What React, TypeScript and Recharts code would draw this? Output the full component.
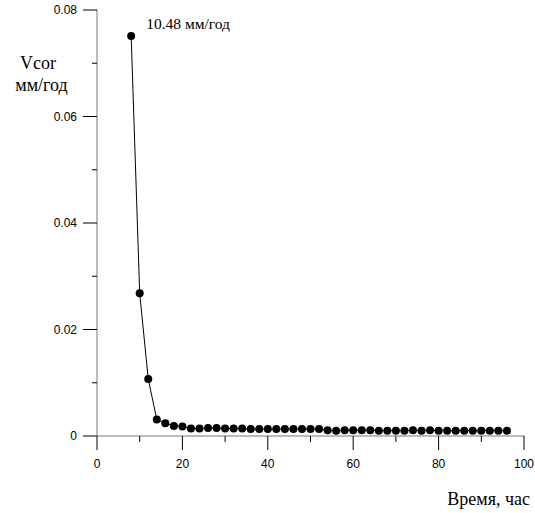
import React from "react";
import { LineChart, Line, XAxis, YAxis } from "recharts";

const hours = [8, 10, 12, 14, 16, 18, 20, 22, 24, 26, 28, 30, 32, 34, 36, 38, 40, 42, 44, 46, 48, 50, 52, 54, 56, 58, 60, 62, 64, 66, 68, 70, 72, 74, 76, 78, 80, 82, 84, 86, 88, 90, 92, 94, 96];
const vcor = [0.0751, 0.0268, 0.0107, 0.0031, 0.0024, 0.0019, 0.0018, 0.0014, 0.0014, 0.0015, 0.0015, 0.0014, 0.0014, 0.0014, 0.0013, 0.0013, 0.0013, 0.0013, 0.0013, 0.0013, 0.0013, 0.0013, 0.0013, 0.0011, 0.001, 0.0011, 0.0011, 0.0011, 0.0011, 0.001, 0.001, 0.001, 0.001, 0.0011, 0.001, 0.0011, 0.001, 0.001, 0.001, 0.001, 0.001, 0.001, 0.001, 0.001, 0.001];
const xMajorTicks = [0, 20, 40, 60, 80, 100];
const xMinorTicks = [10, 30, 50, 70, 90];
const yMajorTicks = [0, 0.02, 0.04, 0.06, 0.08];
const yMinorTicks = [0.01, 0.03, 0.05, 0.07];
const peakLabel = "10.48 мм/год";
const yTitle = ["Vcor", "мм/год"];
const xTitle = "Время, час";

const data = hours.map((h, i) => ({ h, v: vcor[i] }));
const xTicks = [...xMajorTicks, ...xMinorTicks].sort((a, b) => a - b);
const yTicks = [...yMajorTicks, ...yMinorTicks].sort((a, b) => a - b);

const serif = "'Liberation Serif', 'Times New Roman', serif";
const sans = "'Liberation Sans', Arial, sans-serif";

const XTick = (props: any) => {
  const { x, y, payload } = props;
  const major = xMajorTicks.includes(payload.value);
  return (
    <g>
      <line x1={x} y1={y} x2={x} y2={y + (major ? 14 : 6)} stroke="#000" strokeWidth={1} />
      {major && (
        <text x={x} y={y + 32} textAnchor="middle" style={{ fontFamily: sans, fontSize: 12, fill: "#000" }}>
          {String(payload.value)}
        </text>
      )}
    </g>
  );
};

const YTick = (props: any) => {
  const { x, y, payload } = props;
  const major = yMajorTicks.includes(payload.value);
  return (
    <g>
      <line x1={x - (major ? 14 : 5)} y1={y} x2={x} y2={y} stroke="#000" strokeWidth={1} />
      {major && (
        <text x={x - 20} y={y + 4.3} textAnchor="end" style={{ fontFamily: sans, fontSize: 12, fill: "#000" }}>
          {String(payload.value)}
        </text>
      )}
    </g>
  );
};

const PeakLabel = (props: any) => {
  const { x, y, index } = props;
  if (index !== 0) return null;
  return (
    <text x={x + 15} y={y - 7} style={{ fontFamily: serif, fontSize: 15.5, fill: "#000" }}>
      {peakLabel}
    </text>
  );
};

const titleStyle: React.CSSProperties = {
  position: "absolute",
  fontFamily: serif,
  fontSize: 18,
  lineHeight: "18px",
  color: "#000",
  whiteSpace: "nowrap",
};

export default function App() {
  return (
    <div style={{ position: "absolute", left: 0, top: 0, width: 535, height: 513, background: "#fff" }}>
      <LineChart width={535} height={513} data={data} margin={{ top: 10, right: 11, bottom: 0, left: 0 }}>
        <XAxis
          dataKey="h"
          type="number"
          domain={[0, 100]}
          ticks={xTicks}
          interval={0}
          tickSize={0}
          tickMargin={0}
          tickLine={false}
          height={77}
          axisLine={{ stroke: "#777" }}
          tick={<XTick />}
        />
        <YAxis
          type="number"
          domain={[0, 0.08]}
          ticks={yTicks}
          interval={0}
          tickSize={0}
          tickMargin={0}
          tickLine={false}
          width={97}
          axisLine={{ stroke: "#777" }}
          tick={<YTick />}
        />
        <Line
          dataKey="v"
          stroke="#000"
          strokeWidth={1}
          isAnimationActive={false}
          dot={{ r: 4, fill: "#000", stroke: "#000", strokeWidth: 0 }}
          activeDot={false}
          label={<PeakLabel />}
        />
      </LineChart>
      <div style={{ ...titleStyle, left: 0, width: 76, top: 54, textAlign: "center" }}>{yTitle[0]}</div>
      <div style={{ ...titleStyle, left: 0, width: 83, top: 76, textAlign: "center" }}>{yTitle[1]}</div>
      <div style={{ ...titleStyle, right: 5, top: 490, textAlign: "right" }}>{xTitle}</div>
    </div>
  );
}
